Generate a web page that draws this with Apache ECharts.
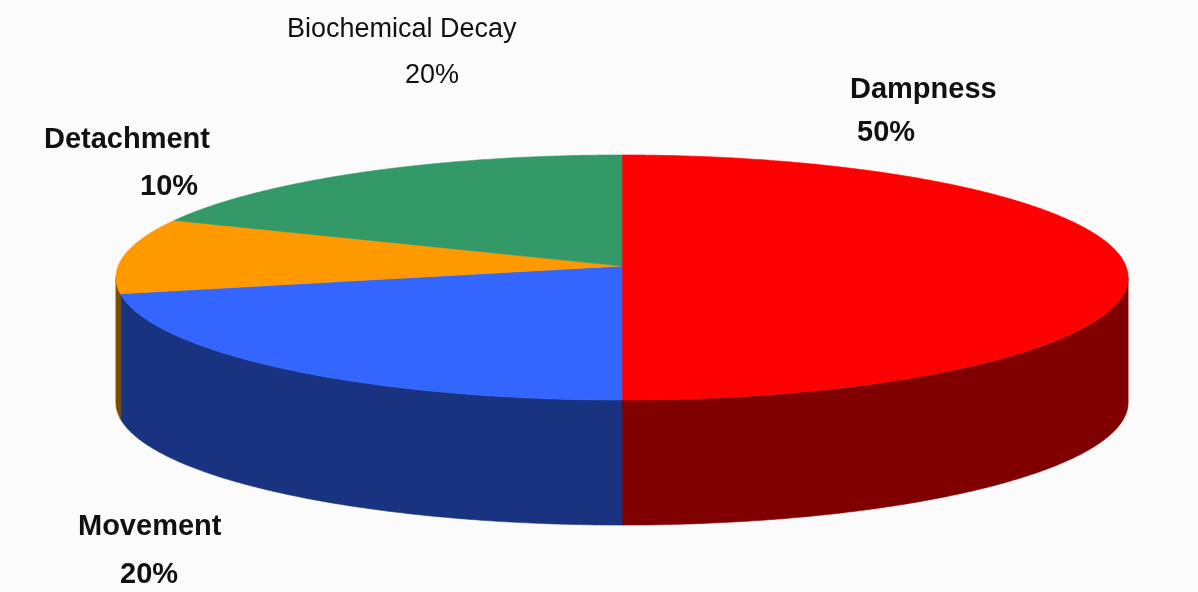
<!DOCTYPE html>
<html>
<head>
<meta charset="utf-8">
<script src="https://cdn.jsdelivr.net/npm/echarts@6/dist/echarts.min.js"></script>
<style>
  html, body { margin: 0; padding: 0; background: #fbfbfb; }
  #chart { width: 1198px; height: 592px; }
</style>
</head>
<body>
<div id="chart"></div>
<script>
// slices, clockwise from the back of the pie
const names = ['Dampness', 'Movement', 'Detachment', 'Biochemical Decay']
const values = [50, 20, 10, 20]
const topColors = ['#ff0000', '#3366ff', '#ff9900', '#339966']
const sideColors = ['#800000', '#1a3380', '#804d00', '#1a4d33']

// label placement (left edge x, middle y of name line, percent line)
const labelLayout = [
  { x: 850, y: 90, px: 857, py: 133, bold: true },
  { x: 78, y: 527, px: 120, py: 575, bold: true },
  { x: 44, y: 140, px: 140, py: 187, bold: true },
  { x: 287, y: 30, px: 405, py: 76, bold: false }
]

// projection of the tilted disc
const CX = 622
const CY0 = 255
const APEX_Y = 266
const S = 497.5
const T = 118.4
const K = 0.1837
const DEPTH = 125

const total = values.reduce((a, b) => a + b, 0)
const starts = []
let acc = 0
values.forEach(v => { starts.push(acc / total * 360); acc += v })

function rim (deg, drop) {
  const r = deg * Math.PI / 180
  const X = Math.sin(r)
  const Z = Math.cos(r)
  const w = 1 + K * Z
  return [CX + S * X / w, CY0 - T * Z / w + drop]
}

function arc (a0, a1, drop) {
  const pts = []
  const n = Math.max(2, Math.ceil((a1 - a0) / 0.5))
  for (let i = 0; i <= n; i++) pts.push(rim(a0 + (a1 - a0) * i / n, drop))
  return pts
}

// visible part of the wall lies between the two silhouette points
const visLo = Math.acos(-K) * 180 / Math.PI
const visHi = 360 - visLo

function renderSide (params, api) {
  const i = params.dataIndex
  const a0 = starts[i]
  const a1 = a0 + api.value(0) / total * 360
  const lo = Math.max(a0, visLo)
  const hi = Math.min(a1, visHi)
  if (hi <= lo) return
  const pts = arc(lo, hi, 0).concat(arc(lo, hi, DEPTH).reverse())
  return {
    type: 'polygon',
    shape: { points: pts },
    style: { fill: sideColors[i], stroke: sideColors[i], lineWidth: 0.6 }
  }
}

function renderTop (params, api) {
  const i = params.dataIndex
  const a0 = starts[i]
  const a1 = a0 + api.value(0) / total * 360
  const pts = [[CX, APEX_Y]].concat(arc(a0, a1, 0))
  return {
    type: 'polygon',
    shape: { points: pts },
    style: { fill: topColors[i], stroke: topColors[i], lineWidth: 0.6 }
  }
}

const seriesData = values.map((v, i) => ({ name: names[i], value: v }))

const labels = []
names.forEach((name, i) => {
  const l = labelLayout[i]
  const font = (l.bold ? 'bold 29px' : '27px') + ' "Liberation Sans", Arial, sans-serif'
  const pfont = (l.bold ? 'bold 29px' : '27px') + ' "Liberation Sans", Arial, sans-serif'
  labels.push({
    type: 'text', x: l.x, y: l.y,
    style: { text: name, font: font, fill: '#111', align: 'left', verticalAlign: 'middle' }
  })
  labels.push({
    type: 'text', x: l.px, y: l.py,
    style: { text: values[i] + '%', font: pfont, fill: '#111', align: 'left', verticalAlign: 'middle' }
  })
})

const dom = echarts.init(document.getElementById('chart'))
dom.setOption({
  backgroundColor: '#fbfbfb',
  animation: false,
  graphic: labels,
  series: [
    {
      type: 'custom',
      coordinateSystem: 'none',
      z: 2,
      renderItem: renderSide,
      data: seriesData
    },
    {
      type: 'custom',
      coordinateSystem: 'none',
      z: 3,
      renderItem: renderTop,
      data: seriesData
    }
  ]
})
</script>
</body>
</html>
